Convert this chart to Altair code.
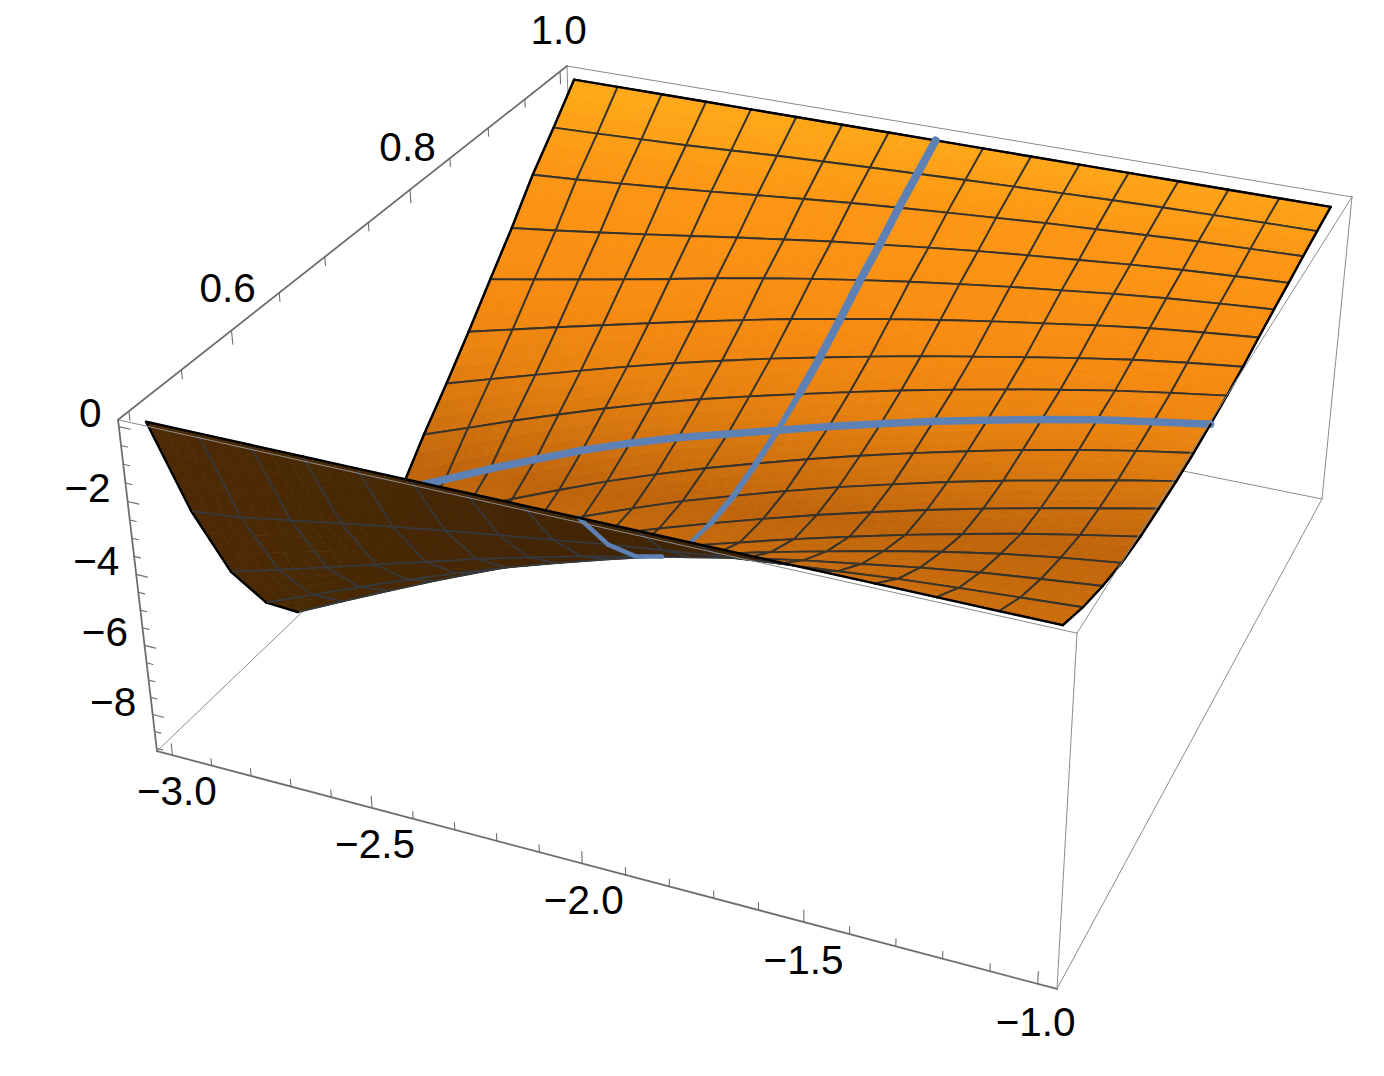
import altair as alt
import numpy as np
import pandas as pd

# ---- values ----
x_mesh = [-3 + i * 0.125 for i in range(17)]
y_mesh = [0.5 + i * 0.03125 for i in range(17)]
# depth below zero per row (y) and column (x)
z_rows = [
 [0]*17,
 [3.15,3.00,2.76,2.52,2.29,2.07,1.86,1.66,1.46,1.28,1.11,.96,.82,.68,.57,.47,.37],
 [5.65,5.25,4.85,4.44,4.03,3.62,3.24,2.88,2.55,2.24,1.93,1.66,1.42,1.18,.97,.80,.64],
 [7.35,6.78,6.21,5.66,5.14,4.64,4.18,3.74,3.33,2.93,2.55,2.20,1.86,1.55,1.27,1.04,.84],
 [8.45,7.78,7.12,6.48,5.87,5.29,4.76,4.26,3.82,3.39,2.97,2.58,2.20,1.85,1.52,1.22,.94],
 [8.75,8.05,7.37,6.71,6.08,5.48,4.93,4.42,3.95,3.50,3.07,2.67,2.29,1.93,1.60,1.28,.97],
 [8.65,7.98,7.32,6.68,6.07,5.48,4.92,4.39,3.92,3.47,3.04,2.65,2.27,1.92,1.60,1.28,.99],
 [8.30,7.62,6.97,6.35,5.76,5.19,4.67,4.18,3.73,3.30,2.89,2.51,2.15,1.81,1.50,1.22,.97],
 [7.75,7.12,6.48,5.88,5.30,4.78,4.31,3.90,3.49,3.08,2.70,2.33,2.00,1.68,1.39,1.14,.91],
 [6.75,6.24,5.72,5.23,4.75,4.30,3.88,3.50,3.14,2.79,2.45,2.13,1.83,1.55,1.28,1.05,.83],
 [5.85,5.42,5.00,4.58,4.17,3.78,3.42,3.07,2.75,2.44,2.14,1.87,1.60,1.34,1.10,.90,.72],
 [4.90,4.55,4.20,3.86,3.52,3.19,2.87,2.56,2.28,2.01,1.76,1.52,1.30,1.08,.88,.72,.58],
 [3.90,3.64,3.37,3.10,2.82,2.53,2.26,2.01,1.78,1.56,1.36,1.17,1.00,.83,.68,.56,.45],
 [2.92,2.74,2.54,2.34,2.13,1.92,1.72,1.52,1.35,1.18,1.02,.88,.75,.62,.51,.42,.34],
 [1.85,1.75,1.63,1.51,1.38,1.24,1.10,.97,.86,.75,.65,.55,.47,.39,.31,.26,.21],
 [.95,.90,.84,.78,.70,.62,.55,.49,.43,.37,.32,.27,.22,.18,.15,.12,.10],
 [0]*17,
]
x_ticks = [-3 + i * 0.1 for i in range(21)]
y_ticks = [0.5 + i * 0.05 for i in range(11)]
z_ticks = [-i * 0.5 for i in range(19)]
x_labels = {-3.0: "\u22123.0", -2.5: "\u22122.5", -2.0: "\u22122.0", -1.5: "\u22121.5", -1.0: "\u22121.0"}
y_labels = {0.6: "0.6", 0.8: "0.8", 1.0: "1.0"}
z_labels = {0: "0", -2: "\u22122", -4: "\u22124", -6: "\u22126", -8: "\u22128"}
x_box = (-3.04, -0.96)
y_box = (0.49, 1.01)
z_box = (-9.08, 0.18)

# ---- view: camera calibrated on the seven visible corners of the box ----
corners = [((0,0,1),(118,420)),((0,1,1),(567,66)),((1,1,1),(1352,197)),((1,0,1),(1077,633)),
           ((0,0,0),(157,751)),((1,0,0),(1057,989)),((1,1,0),(1322,499))]
A = []
for (a,b,c),(sx,sy) in corners:
    A.append([a,b,c,1,0,0,0,0,-sx*a,-sx*b,-sx*c,-sx])
    A.append([0,0,0,0,a,b,c,1,-sy*a,-sy*b,-sy*c,-sy])
P = np.linalg.svd(np.array(A,float))[2][-1].reshape(3,4)
if P[2] @ np.array([.5,.5,.5,1]) < 0:
    P = -P

def proj(x,y,z):
    h = np.array([(x-x_box[0])/(x_box[1]-x_box[0]),(y-y_box[0])/(y_box[1]-y_box[0]),(z-z_box[0])/(z_box[1]-z_box[0]),1.0])
    p = P @ h
    return p[0]/p[2], p[1]/p[2], p[2]

def pt(x,y,z):
    a,b,_ = proj(x,y,z)
    return [a-8, b-8]

Z = -np.array(z_rows,float)

def surf(u,v):
    i = min(int(u),15); j = min(int(v),15)
    fu = u-i; fv = v-j
    z = (Z[j,i]*(1-fu)*(1-fv)+Z[j,i+1]*fu*(1-fv)+Z[j+1,i]*(1-fu)*fv+Z[j+1,i+1]*fu*fv)
    return x_mesh[i]+(x_mesh[i+1]-x_mesh[i])*fu, y_mesh[j]+(y_mesh[j+1]-y_mesh[j])*fv, z

stops_y = [100,200,320,400,460,515,540,600]
stops_c = np.array([(255,172,26),(253,150,20),(248,140,18),(232,130,15),(210,115,14),(190,100,11),(195,104,11),(205,110,12)],float)

def top_color(sx,sy):
    t = sy-0.12*(sx-800)
    c = [np.interp(t,stops_y,stops_c[:,k]) for k in range(3)]
    return "#%02x%02x%02x" % tuple(int(round(v)) for v in c)

def under_color(sx):
    f = np.clip((sx-150)/600,0,1)
    c = np.array((78,43,5))*(1-f)+np.array((62,35,6))*f
    return "#%02x%02x%02x" % tuple(int(round(v)) for v in c)

def feat(kind,coords,fill,stroke,sw):
    return {"type":"Feature","geometry":{"type":kind,"coordinates":coords},
            "properties":{"fill":fill,"stroke":stroke,"sw":sw}}

def line(pts,stroke,sw):
    return feat("LineString",pts,"transparent",stroke,sw)

def box_pt(a,b,c):
    return pt(x_box[a],y_box[b],z_box[c])

# ---- surface, painted far to near ----
items = []
keys = np.zeros((16,16))
area = np.zeros((16,16))
for j in range(16):
    for i in range(16):
        q = [proj(*surf(i+a,j+b)) for a,b in [(0,0),(1,0),(1,1),(0,1)]]
        keys[j,i] = np.mean([p[2] for p in q])
        d1 = (q[2][0]-q[0][0],q[2][1]-q[0][1]); d2 = (q[3][0]-q[1][0],q[3][1]-q[1][1])
        area[j,i] = d1[0]*d2[1]-d1[1]*d2[0]
under_flag = np.sign(area) != np.sign(area[12,8])

def near_key(j0,j1,i0,i1):
    return keys[max(j0,0):min(j1,15)+1, max(i0,0):min(i1,15)+1].min()

S = 3
for j in range(16):
    for i in range(16):
        sub = []
        for a in range(S):
            for b in range(S):
                corners_q = [surf(i+(a+da)/S,j+(b+db)/S) for da,db in [(0,0),(1,0),(1,1),(0,1),(0,0)]]
                ring = [pt(*c) for c in corners_q]
                cx = np.mean([r[0] for r in ring[:4]])+8; cy = np.mean([r[1] for r in ring[:4]])+8
                col = under_color(cx) if under_flag[j,i] else top_color(cx,cy)
                sub.append(feat("Polygon",[ring],col,col,0.7))
        ring = [pt(*surf(i+a,j+b)) for a,b in [(0,0),(1,0),(1,1),(0,1),(0,0)]]
        under = under_flag[j,i]
        sub.append(line(ring,"#343b42" if under else "#36322c",1.5 if under else 1.9))
        items.append((keys[j,i],0,sub))

# blue curves along the middle mesh lines
for i in range(16):
    k = near_key(7,8,i-1,i+1)-1e-7
    items.append((k,1,[line([pt(*surf(i,8)),pt(*surf(i+1,8))],"#5e81b5",7.5)]))
for j in range(16):
    k = near_key(j-1,j+1,7,8)-1e-7
    w = 8 if j>=9 else (6 if j>=5 else 4.5)
    items.append((k,1,[line([pt(*surf(8,j)),pt(*surf(8,j+1))],"#5e81b5",w)]))

# surface outline
for i in range(16):
    items.append((near_key(0,0,i-1,i+1)-2e-7,2,[line([pt(*surf(i,0)),pt(*surf(i+1,0))],"#000000",2.4)]))
    items.append((near_key(15,15,i-1,i+1)-2e-7,2,[line([pt(*surf(i,16)),pt(*surf(i+1,16))],"#000000",2.4)]))
for j in range(16):
    items.append((near_key(j,j,0,0)-2e-7,2,[line([pt(*surf(0,j)),pt(*surf(0,j+1))],"#000000",2.4)]))
    items.append((near_key(j,j,15,15)-2e-7,2,[line([pt(*surf(16,j)),pt(*surf(16,j+1))],"#000000",2.4)]))

items.sort(key=lambda t:-t[0])
features = []
# back edges of the box, behind the surface
thin = "#8c8c8c"
axis = "#6e6e6e"
for a,b in [((0,1,1),(0,1,0)),((0,1,0),(0,0,0)),((0,1,0),(1,1,0))]:
    features.append(line([box_pt(*a),box_pt(*b)],thin,1))
for t in items:
    features.extend(t[2])
# remaining box edges
for a,b in [((1,1,1),(1,1,0)),((1,1,0),(1,0,0)),((1,0,1),(1,0,0)),((0,1,1),(1,1,1)),((1,1,1),(1,0,1)),((1,0,1),(0,0,1))]:
    features.append(line([box_pt(*a),box_pt(*b)],thin,1))
for a,b in [((0,0,1),(0,1,1)),((0,0,1),(0,0,0)),((0,0,0),(1,0,0))]:
    features.append(line([box_pt(*a),box_pt(*b)],axis,1.8))
# ticks
for x in x_ticks:
    major = round(x*10)%5==0
    features.append(line([pt(x,y_box[0],z_box[0]),pt(x,y_box[0],z_box[0]+(0.34 if major else 0.21))],axis,1.1))
for y in y_ticks:
    major = round(y*100)%20==0
    features.append(line([pt(x_box[0],y,z_box[1]),pt(x_box[0],y,z_box[1]-(0.38 if major else 0.24))],axis,1.1))
for z in z_ticks:
    major = round(z*2)%4==0
    features.append(line([pt(x_box[0],y_box[0],z),pt(x_box[0]+(0.028 if major else 0.016),y_box[0],z)],axis,1.1))

# ---- tick labels ----
c_rows = []
for x,t in x_labels.items():
    a,b = pt(x,y_box[0],z_box[0]-1.13)
    c_rows.append({"lon":a,"lat":b,"label":t})
for y,t in y_labels.items():
    a,b = pt(x_box[0],y,z_box[1]+1.1+(y-0.6)*0.33)
    c_rows.append({"lon":a,"lat":b,"label":t})
r_rows = []
for z,t in z_labels.items():
    a,b = pt(x_box[0]-0.04,y_box[0],z+0.2)
    r_rows.append({"lon":a,"lat":b,"label":t})

geo = alt.Chart(alt.InlineData(values={"type":"FeatureCollection","features":features},
                               format=alt.DataFormat(type="json",property="features"))).mark_geoshape(
    strokeCap="round",strokeJoin="round").encode(
    fill=alt.Fill("properties.fill:N",scale=None),
    stroke=alt.Stroke("properties.stroke:N",scale=None),
    strokeWidth=alt.StrokeWidth("properties.sw:Q",scale=None),
).project(type="identity",scale=1,translate=[0,0])

def text_layer(rows,align):
    return alt.Chart(pd.DataFrame(rows)).mark_text(font="Liberation Sans",fontSize=40.5,color="#000000",
        align=align,baseline="middle").encode(
        longitude="lon:Q",latitude="lat:Q",text="label:N").project(type="identity",scale=1,translate=[0,0])

chart = alt.layer(geo,text_layer(c_rows,"center"),text_layer(r_rows,"right")).properties(
    width=1368,height=1060,padding=0,autosize="none").configure_view(stroke=None)
chart.save("out.html", embed_options={"renderer": "svg", "actions": False})
